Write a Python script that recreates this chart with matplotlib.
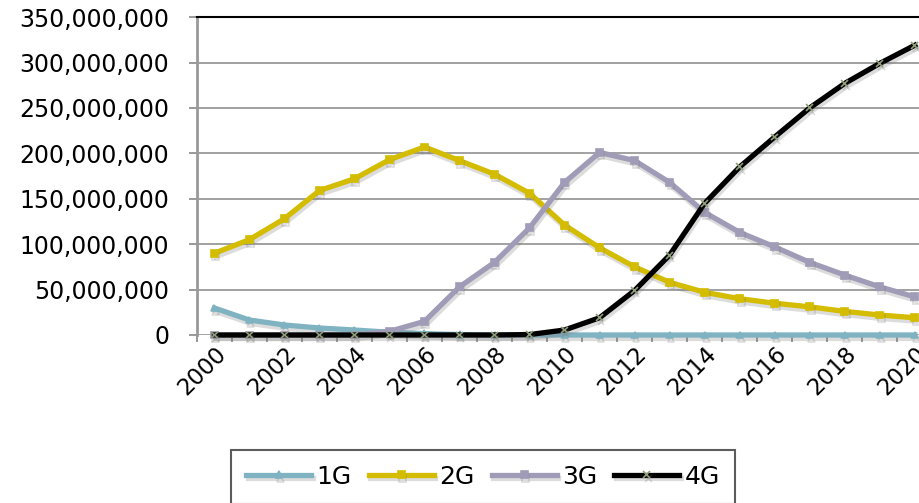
import numpy as np
import matplotlib.pyplot as plt
import matplotlib.patheffects as pe
from matplotlib.ticker import FuncFormatter

anos = list(range(2000, 2021))
g1 = [29.7e6, 16.5e6, 11e6, 7.7e6, 5.5e6, 3e6, 1.5e6, 0.5e6, 0, 0, 0,
      0, 0, 0, 0, 0, 0, 0, 0, 0, 0]
g2 = [90e6, 105e6, 128e6, 159e6, 172e6, 193e6, 207e6, 192e6, 177e6, 156e6, 121e6,
      96e6, 75e6, 58e6, 47e6, 40e6, 35e6, 31e6, 26e6, 22e6, 19e6]
g3 = [0, 0, 0, 0, 0, 4e6, 15e6, 53e6, 80e6, 118e6, 168e6,
      201e6, 192e6, 168e6, 135e6, 113e6, 97e6, 80e6, 66e6, 53e6, 42e6]
g4 = [0, 0, 0, 0, 0, 0, 0, 0, 0, 0.5e6, 5.5e6,
      19e6, 49e6, 88e6, 145e6, 185e6, 218e6, 250e6, 277e6, 299e6, 319e6]

series = [("1G", g1, "#7fb3c2", "^", "#7fb3c2"),
          ("2G", g2, "#d4bc00", "s", "#d4bc00"),
          ("3G", g3, "#a09cb7", "s", "#a09cb7"),
          ("4G", g4, "#000000", "x", "#8e9c78")]

fig = plt.figure(figsize=(9.2, 5.03), dpi=100)
ax = fig.add_axes([0.214, 0.334, 0.786, 0.632])

sombra = [pe.SimpleLineShadow(offset=(1, -2.5), shadow_color="#777777", alpha=0.25),
          pe.Normal()]

for nome, vals, cor, mk, mcor in series:
    ax.plot(anos, vals, color=cor, lw=3.8, marker=mk, ms=5, mec=mcor, mfc=mcor,
            mew=1.2, label=nome, clip_on=False, path_effects=sombra, zorder=3)

ax.set_ylim(0, 350e6)
ax.set_yticks(np.arange(0, 350e6 + 1, 50e6))
ax.yaxis.set_major_formatter(FuncFormatter(lambda v, p: f"{v:,.0f}"))
ax.set_xlim(1999.5, 2020.15)

# ticks nas fronteiras das categorias, rótulos no centro
ax.set_xticks(np.arange(1999.5, 2020.5, 1))
ax.set_xticklabels([])
ax.set_xticks(anos[::2], minor=True)
ax.set_xticklabels([str(a) for a in anos[::2]], minor=True, rotation=45,
                   ha="right", va="top", rotation_mode="anchor", fontsize=16.5)
ax.tick_params(axis="x", which="minor", length=0, pad=5)
ax.tick_params(axis="x", which="major", length=5, color="#888888", width=1.2)
ax.tick_params(axis="y", length=6, color="#888888", width=1.2, labelsize=17, pad=14)

ax.grid(axis="y", color="#9a9a9a", lw=1.3)
ax.set_axisbelow(True)
for s in ["right", "bottom"]:
    ax.spines[s].set_visible(False)
ax.spines["top"].set_color("black")
ax.spines["top"].set_linewidth(1.5)
ax.spines["left"].set_color("#999999")
ax.spines["left"].set_linewidth(2)

leg = fig.legend(loc="upper center", bbox_to_anchor=(0.525, 0.106), ncol=4,
                 frameon=True, fancybox=False, edgecolor="#333333", fontsize=18,
                 handlelength=2.6, columnspacing=0.7, handletextpad=0.2,
                 borderpad=0.6, borderaxespad=0)
leg.get_frame().set_linewidth(1.5)

plt.savefig("out.png", dpi=100)
